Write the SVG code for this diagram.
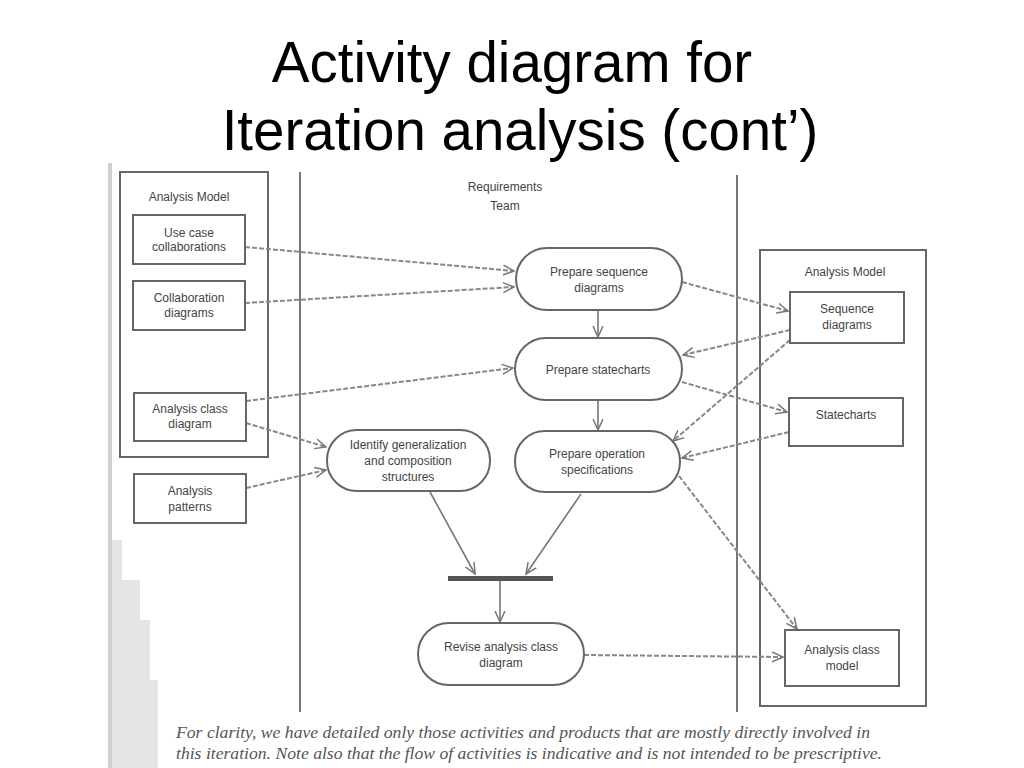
<svg xmlns="http://www.w3.org/2000/svg" width="1024" height="768" viewBox="0 0 1024 768">
<defs>
<style>
.title{font-family:"Liberation Sans",Arial,sans-serif;font-size:56.5px;fill:#000;text-anchor:middle}
.lbl{font-family:"Liberation Sans",Arial,sans-serif;font-size:12px;fill:#444;text-anchor:middle}
.box{fill:#fff;stroke:#666;stroke-width:2}
.act{fill:#fff;stroke:#666;stroke-width:2}
.lane{stroke:#777;stroke-width:2;fill:none}
.obj{stroke:#888;stroke-width:2;stroke-dasharray:5 2;fill:none;marker-end:url(#oa)}
.ctl{stroke:#777;stroke-width:1.6;fill:none;marker-end:url(#oa)}
.note{font-family:"Liberation Serif","Times New Roman",serif;font-style:italic;font-size:16px;fill:#555}
</style>
<marker id="oa" viewBox="0 0 12 12" refX="11" refY="6" markerWidth="12" markerHeight="12" markerUnits="userSpaceOnUse" orient="auto">
<path d="M0,1 L11,6 L0,11" fill="none" stroke="#777" stroke-width="1.5"/>
</marker>
</defs>
<rect width="1024" height="768" fill="#fff"/>
<text class="title" x="512" y="82">Activity diagram for</text>
<text class="title" x="520" y="150">Iteration analysis (cont’)</text>
<g id="scan-edge" fill="#e4e4e4">
<rect x="108" y="163" width="4" height="605" fill="#d0d0d0"/>
<path d="M112,540 L122,540 L122,580 L140,580 L140,620 L150,620 L150,680 L158,680 L158,768 L112,768 Z"/>
</g>
<g id="lanes">
<line class="lane" x1="300" y1="172" x2="300" y2="712"/>
<line class="lane" x1="737" y1="175" x2="737" y2="712"/>
<text class="lbl" x="505" y="191" font-size="12.5">Requirements</text>
<text class="lbl" x="505" y="210" font-size="12.5">Team</text>
</g>
<g id="analysis-model-left">
<rect class="box" x="120" y="172" width="148" height="285"/>
<text class="lbl" x="189" y="201">Analysis Model</text>
</g>
<g id="analysis-model-right">
<rect class="box" x="760" y="250" width="166" height="456"/>
<text class="lbl" x="845" y="276">Analysis Model</text>
</g>
<g id="connectors">
<path class="obj" d="M245,247 L514,271"/>
<path class="obj" d="M245,303 L514,287"/>
<path class="obj" d="M246,401 L513,368"/>
<path class="obj" d="M246,423 L326,447"/>
<path class="obj" d="M246,488 L326,470"/>
<path class="obj" d="M682,282 L788,311"/>
<path class="obj" d="M790,330 L683,355"/>
<path class="obj" d="M790,340 L673,441"/>
<path class="obj" d="M682,382 L787,412"/>
<path class="obj" d="M789,432 L682,458"/>
<path class="obj" d="M679,476 L797,629"/>
<path class="obj" d="M584,655 L783,657"/>
<path class="ctl" d="M598,311 L598,337"/>
<path class="ctl" d="M598,401 L598,430"/>
<path class="ctl" d="M430,492 L475,574"/>
<path class="ctl" d="M581,494 L526,574"/>
<path class="ctl" d="M500,581 L500,622"/>
</g>
<g id="use-case-collaborations">
<rect class="box" x="133" y="215" width="112" height="49"/>
<text class="lbl" x="189" y="237">Use case</text>
<text class="lbl" x="189" y="251">collaborations</text>
</g>
<g id="collaboration-diagrams">
<rect class="box" x="133" y="281" width="112" height="49"/>
<text class="lbl" x="189" y="302">Collaboration</text>
<text class="lbl" x="189" y="317">diagrams</text>
</g>
<g id="analysis-class-diagram">
<rect class="box" x="134" y="393" width="112" height="48"/>
<text class="lbl" x="190" y="413">Analysis class</text>
<text class="lbl" x="190" y="428">diagram</text>
</g>
<g id="analysis-patterns">
<rect class="box" x="134" y="474" width="112" height="49"/>
<text class="lbl" x="190" y="495">Analysis</text>
<text class="lbl" x="190" y="511">patterns</text>
</g>
<g id="prepare-sequence-diagrams">
<rect class="act" x="516" y="248" width="166" height="62" rx="31"/>
<text class="lbl" x="599" y="276">Prepare sequence</text>
<text class="lbl" x="599" y="292">diagrams</text>
</g>
<g id="prepare-statecharts">
<rect class="act" x="515" y="338" width="167" height="62" rx="31"/>
<text class="lbl" x="598" y="374">Prepare statecharts</text>
</g>
<g id="prepare-operation-specifications">
<rect class="act" x="515" y="431" width="165" height="61" rx="30"/>
<text class="lbl" x="597" y="458">Prepare operation</text>
<text class="lbl" x="597" y="474">specifications</text>
</g>
<g id="identify-generalization">
<rect class="act" x="327" y="430" width="163" height="61" rx="30"/>
<text class="lbl" x="408" y="449">Identify generalization</text>
<text class="lbl" x="408" y="465">and composition</text>
<text class="lbl" x="408" y="481">structures</text>
</g>
<g id="sync-bar">
<rect x="448" y="576" width="105" height="5" fill="#555"/>
</g>
<g id="revise-analysis-class-diagram">
<rect class="act" x="418" y="623" width="166" height="62" rx="31"/>
<text class="lbl" x="501" y="651">Revise analysis class</text>
<text class="lbl" x="501" y="667">diagram</text>
</g>
<g id="sequence-diagrams">
<rect class="box" x="790" y="292" width="114" height="51"/>
<text class="lbl" x="847" y="313">Sequence</text>
<text class="lbl" x="847" y="329">diagrams</text>
</g>
<g id="statecharts">
<rect class="box" x="789" y="398" width="114" height="48"/>
<text class="lbl" x="846" y="419">Statecharts</text>
</g>
<g id="analysis-class-model">
<rect class="box" x="785" y="630" width="114" height="56"/>
<text class="lbl" x="842" y="654">Analysis class</text>
<text class="lbl" x="842" y="670">model</text>
</g>
<g id="note">
<text class="note" x="176" y="738" textLength="694" lengthAdjust="spacingAndGlyphs">For clarity, we have detailed only those activities and products that are mostly directly involved in</text>
<text class="note" x="176" y="759" textLength="706" lengthAdjust="spacingAndGlyphs">this iteration. Note also that the flow of activities is indicative and is not intended to be prescriptive.</text>
</g>
</svg>
